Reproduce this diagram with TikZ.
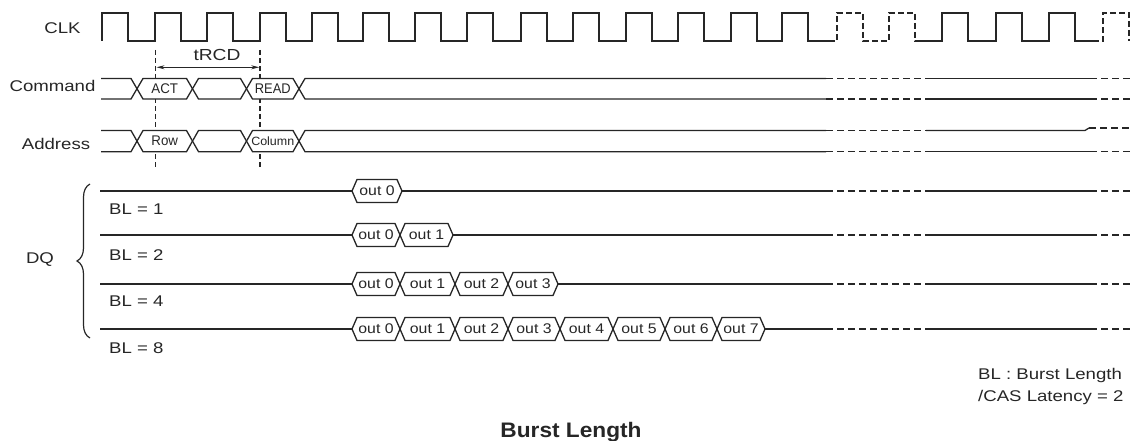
\documentclass[tikz,border=0pt]{standalone}
\usepackage{fontspec}
\setmainfont{Liberation Sans}
\usetikzlibrary{arrows.meta,decorations.pathreplacing}
\newcommand{\sx}[2]{\scalebox{#1}[1]{#2}}
\tikzset{
  wave/.style={line width=1.3pt, draw=black!85, line join=miter},
  dsh/.style={wave, dash pattern=on 7pt off 4pt},
  guide/.style={line width=1.1pt, draw=black!85, dash pattern=on 5pt off 3pt},
  lbl/.style={inner sep=0pt, anchor=base, text=black!85, font=\fontsize{15.5}{18}\selectfont},
  cell/.style={inner sep=0pt, text=black!85, font=\fontsize{14}{16}\selectfont},
  ocell/.style={inner sep=0pt, text=black!85, font=\fontsize{14}{16}\selectfont}
}
\begin{document}
\begin{tikzpicture}[x=1pt,y=-1pt]
\useasboundingbox (0,0) rectangle (1132,441);

% ---------- tRCD guides (behind the buses) ----------
\coordinate (g1t) at (155.7,50);
\coordinate (g1b) at (155.7,167);
\coordinate (g2t) at (260,50);
\coordinate (g2b) at (260,167);
\draw[guide] (g1t) -- (g1b);
\draw[guide] (g2t) -- (g2b);
\coordinate (a1) at (156.5,67.3);
\coordinate (a2) at (259.2,67.3);
\draw[line width=0.9pt, draw=black!85, {Stealth[length=8pt,width=4pt]}-{Stealth[length=8pt,width=4pt]}] (a1) -- (a2);

% ---------- CLK ----------
\draw[wave] (102,41) -- (102,13) -- (128,13) -- (128,41)
  foreach \r in {155,207,260,312,363,415,467,521,573,626,678,731,782}
  { -- (\r,41) -- (\r,13) -- ({\r+26},13) -- ({\r+26},41) } -- (829,41);
\draw[wave, dash pattern=on 6pt off 3pt] (829,41) -- (837,41) -- (837,13) -- (863,13) -- (863,41)
  -- (889,41) -- (889,13) -- (915,13) -- (915,41) -- (918,41);
\draw[wave] (918,41)
  foreach \r in {942,996,1049}
  { -- (\r,41) -- (\r,13) -- ({\r+26},13) -- ({\r+26},41) } -- (1093,41);
\draw[wave, dash pattern=on 6pt off 3pt] (1093,41) -- (1103,41) -- (1103,13) -- (1129,13) -- (1129,41);

% ---------- labels ----------
\node[lbl] (clk) at (62.5,34) {\sx{1.2}{CLK}};
\node[lbl] (cmd) at (52.5,91.5) {\sx{1.2}{Command}};
\node[lbl] (addr) at (56,149.5) {\sx{1.2}{Address}};
\node[lbl] (dq) at (40,263.5) {\sx{1.2}{DQ}};
\node[lbl, font=\fontsize{16}{18}\selectfont] (trcd) at (217,60.5) {\sx{1.2}{tRCD}};

% ---------- Command / Address buses ----------
\foreach \T/\B/\nm in {78.5/99/c, 130.5/151.7/a} {
  \draw[wave] (101,\T) -- (131,\T) -- (137,{(\T+\B)/2}) -- (131,\B) -- (101,\B);
  \foreach \p/\q in {137/192.5, 192.5/246.5, 246.5/299}
    \draw[wave, fill=white] (\p,{(\T+\B)/2}) -- ({\p+6},\T) -- ({\q-6},\T) -- (\q,{(\T+\B)/2})
      -- ({\q-6},\B) -- ({\p+6},\B) -- cycle;
  \draw[wave] (826,\T) -- (305,\T) -- (299,{(\T+\B)/2}) -- (305,\B) -- (826,\B);
  \draw[dsh] (826,\T) -- (926,\T) (826,\B) -- (926,\B);
  \draw[wave] (926,\B) -- (1090,\B);
  \draw[dsh] (1090,\B) -- (1130,\B);
}
\draw[wave] (926,78.5) -- (1090,78.5);
\draw[dsh] (1090,78.5) -- (1130,78.5);
\draw[wave] (926,130.5) -- (1085,130.5) -- (1089,128);
\draw[dsh] (1089,128) -- (1130,128);

\node[cell] (act) at (164.75,88.75) {\sx{0.95}{ACT}};
\node[cell] (read) at (272.75,88.75) {\sx{0.92}{READ}};
\node[cell] (row) at (164.75,141.1) {\sx{0.95}{Row}};
\node[cell, font=\fontsize{12}{14}\selectfont] (col) at (272.75,141.1) {\sx{1.04}{Column}};

% ---------- DQ rows ----------
\foreach \y/\cells/\last/\n in {191/{352/402}/402/1, 235/{352/400,400/453}/453/2,
   284/{352/400,400/455,455/508,508/558}/558/4,
   329/{352/400,400/455,455/508,508/560,560/613,613/665,665/717,717/765}/765/8} {
  \draw[wave] (100,\y) -- (352,\y);
  \foreach \p/\q [count=\k from 0] in \cells {
    \draw[wave, fill=white] (\p,\y) -- ({\p+5},{\y-11.5}) -- ({\q-5},{\y-11.5}) -- (\q,\y)
      -- ({\q-5},{\y+11.5}) -- ({\p+5},{\y+11.5}) -- cycle;
    \node[ocell] (o\n-\k) at ({(\p+\q)/2},\y) {\sx{1.13}{out \k}};
  }
  \draw[wave] (\last,\y) -- (826,\y);
  \draw[dsh] (826,\y) -- (926,\y);
  \draw[wave] (926,\y) -- (1090,\y);
  \draw[dsh] (1090,\y) -- (1130,\y);
}

\node[lbl, anchor=base west] (bl1) at (109,214) {\sx{1.2}{BL = 1}};
\node[lbl, anchor=base west] (bl2) at (109,260) {\sx{1.2}{BL = 2}};
\node[lbl, anchor=base west] (bl4) at (109,306.5) {\sx{1.2}{BL = 4}};
\node[lbl, anchor=base west] (bl8) at (109,353) {\sx{1.2}{BL = 8}};

% brace
\coordinate (brb) at (90,338);
\coordinate (brt) at (90,184);
\draw[line width=1.2pt, draw=black!85, decorate, decoration={brace, amplitude=13pt}] (brb) -- (brt);

% legend and title
\node[lbl, anchor=base west] (leg1) at (978,379.3) {\sx{1.2}{BL : Burst Length}};
\node[lbl, anchor=base west] (leg2) at (978,401.5) {\sx{1.2}{/CAS Latency = 2}};
\node[lbl, font=\bfseries\fontsize{21}{24}\selectfont] (title) at (571,437) {\sx{1.08}{Burst Length}};
\end{tikzpicture}
\end{document}
